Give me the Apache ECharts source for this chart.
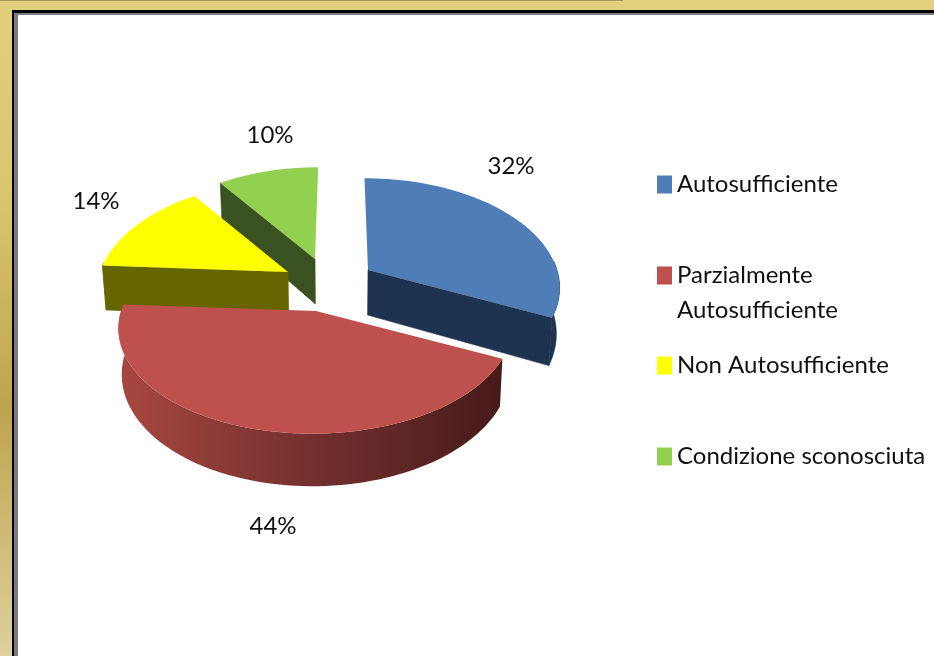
<!DOCTYPE html>
<html>
<head>
<meta charset="utf-8">
<style>html,body{margin:0;padding:0;background:#fff}#c{width:934px;height:656px}</style>
<script src="https://cdn.jsdelivr.net/npm/echarts@6/dist/echarts.min.js"></script>
</head>
<body>
<div id="c"></div>
<script>
// ---- data ----
var categories = ['Autosufficiente', 'Parzialmente Autosufficiente', 'Non Autosufficiente', 'Condizione sconosciuta'];
var legendLabels = ['Autosufficiente', 'Parzialmente\nAutosufficiente', 'Non Autosufficiente', 'Condizione sconosciuta'];
var values = [32, 44, 14, 10];

// ---- styles ----
var topColors = ['#4F7DB8', '#BE504D', '#FFFF00', '#92D050'];
var wallColors = ['#1E334F', '#4A1C1C', '#666600', '#3A5122'];
var redWallStops = [
  { offset: 0, color: '#A8473F' },
  { offset: 0.5, color: '#73302F' },
  { offset: 1, color: '#471A1A' }
];

// ---- layout of the tilted, exploded pie ----
var apexX = [368, 316, 288, 315];
var apexY = [270, 311, 272, 259];
var radii = [189, 195, 188, 185];
var labelX = [511, 273, 96, 270];
var labelY = [166, 526, 201, 135];
var legendTop = [167, 258, 348, 439];
var drawOrder = [3, 2, 0, 1];
var vanishX = 340, tilt = 105, persp = 0.144, depth = 45, bottomShrink = 0.985;
var FONT = 'Lato';
var FONT_SIZE = 24;

var total = values.reduce(function (a, b) { return a + b; }, 0);
function startAngle(i) {
  var s = 0;
  for (var k = 0; k < i; k++) s += values[k];
  return s / total * 360;
}
function project(i, deg, r) {
  var t = deg * Math.PI / 180;
  var Y = -Math.cos(t) * r;
  var f = 1 / (1 - persp * Y);
  return [vanishX + (apexX[i] - vanishX + radii[i] * r * Math.sin(t)) * f,
          apexY[i] + tilt * Y * f, f];
}
function drop(p) {
  return [vanishX + (p[0] - vanishX) * bottomShrink, p[1] + depth * p[2]];
}
function xy(p) { return [p[0], p[1]]; }
function arc(i, a, b) {
  var pts = [], n = Math.max(2, Math.ceil((b - a) / 2));
  for (var k = 0; k <= n; k++) pts.push(project(i, a + (b - a) * k / n, 1));
  return pts;
}
function renderSlice(i) {
  return function () {
    var a = startAngle(i), b = a + values[i] / total * 360;
    var apex = project(i, 0, 0);
    var children = [];
    var wall = wallColors[i];
    function quad(p) {
      children.push({ type: 'polygon', shape: { points: [xy(apex), xy(p), drop(p), drop(apex)] },
        style: { fill: wall, stroke: wall, lineWidth: 0.6 } });
    }
    if (a > 180 && a < 360) quad(project(i, a, 1));
    if (b > 0 && b < 180) quad(project(i, b, 1));
    var wa = Math.max(a, 85), wb = Math.min(b, 275);
    if (wb > wa) {
      var top = arc(i, wa, wb);
      var poly = top.map(xy).concat(top.slice().reverse().map(drop));
      var fill = wall, stroke = wall;
      if (i === 1) {
        fill = { type: 'linear', x: 0, y: 0, x2: 1, y2: 0, colorStops: redWallStops };
        stroke = null;
      }
      children.push({ type: 'polygon', shape: { points: poly },
        style: { fill: fill, stroke: stroke, lineWidth: 0.6 } });
    }
    children.push({
      type: 'polygon',
      shape: { points: [xy(apex)].concat(arc(i, a, b).map(xy)) },
      style: { fill: topColors[i] }
    });
    children.push({
      type: 'text',
      style: {
        x: labelX[i], y: labelY[i], text: values[i] + '%', fill: '#111',
        font: FONT_SIZE + 'px ' + FONT, align: 'center', verticalAlign: 'middle'
      }
    });
    return { type: 'group', children: children };
  };
}

var series = drawOrder.map(function (i, n) {
  return {
    type: 'custom',
    name: categories[i],
    coordinateSystem: 'none',
    silent: true,
    z: 5 + n,
    itemStyle: { color: topColors[i] },
    data: [[values[i]]],
    renderItem: renderSlice(i)
  };
});

var legends = categories.map(function (name, i) {
  var multi = legendLabels[i].indexOf('\n') >= 0;
  return {
    show: true,
    left: 657,
    top: legendTop[i],
    padding: 0,
    orient: 'vertical',
    selectedMode: false,
    data: [name],
    itemWidth: 15,
    itemHeight: multi ? 53 : 18,
    icon: multi ? 'path://M0 0H15V18H0Z M0 52.95H0.05V53H0Z' : 'rect',
    symbolKeepAspect: false,
    formatter: function () { return legendLabels[i]; },
    textStyle: { fontFamily: FONT, fontSize: FONT_SIZE, color: '#111', lineHeight: 35 }
  };
});

var chart = echarts.init(document.getElementById('c'), null, { renderer: 'canvas' });
chart.setOption({
  animation: false,
  backgroundColor: '#fff',
  tooltip: { show: false },
  legend: legends,
  graphic: [
    { type: 'rect', z: 0, shape: { x: 0, y: 0, width: 934, height: 656 }, style: {
        fill: { type: 'linear', x: 0, y: 0, x2: 0, y2: 1, colorStops: [
          { offset: 0, color: '#E2D07E' },
          { offset: 0.3, color: '#DAC56E' },
          { offset: 0.62, color: '#BFA44E' },
          { offset: 1, color: '#DDD19C' }
        ] } } },
    { type: 'rect', z: 0, shape: { x: 0, y: 0, width: 623, height: 1 }, style: { fill: '#A89A62' } },
    { type: 'rect', z: 0, shape: { x: 12, y: 10, width: 922, height: 646 }, style: { fill: '#000' } },
    { type: 'rect', z: 0, shape: { x: 14, y: 13, width: 920, height: 643 }, style: { fill: '#7C7C7C' } },
    { type: 'rect', z: 0, shape: { x: 18, y: 15, width: 916, height: 641 }, style: { fill: '#fff' } }
  ],
  series: series
});
</script>
</body>
</html>
